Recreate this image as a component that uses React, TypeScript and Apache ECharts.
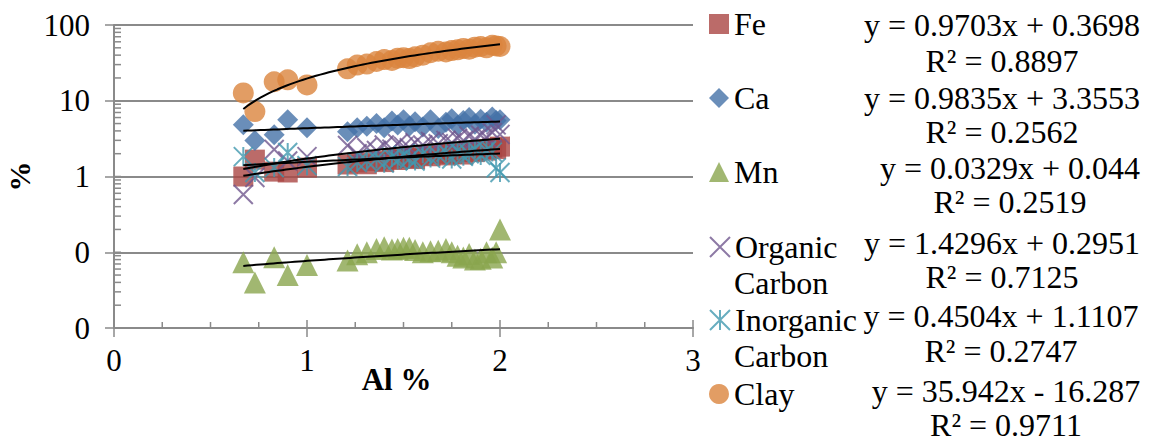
import React, { useEffect, useRef } from 'react';
import * as echarts from 'echarts';

const FONT = '"Liberation Serif", "Times New Roman", serif';
const AXIS_COLOR = '#8a8a8a';

const alValues = [0.67, 0.73, 0.83, 0.9, 1.0, 1.21, 1.26, 1.31, 1.36, 1.4, 1.44, 1.47, 1.5, 1.53, 1.56, 1.6, 1.64, 1.68, 1.72, 1.75, 1.78, 1.81, 1.84, 1.87, 1.9, 1.93, 1.96, 1.98, 2.0];
const feValues = [1.0, 1.67, 1.16, 1.13, 1.31, 1.44, 1.53, 1.45, 1.6, 1.55, 1.7, 1.65, 1.8, 1.75, 1.7, 1.9, 1.85, 2.0, 1.9, 2.0, 2.1, 1.95, 2.2, 2.1, 2.3, 2.2, 2.4, 2.3, 2.48];
const caValues = [4.83, 2.98, 3.57, 5.63, 4.4, 3.9, 4.4, 4.6, 5.0, 4.4, 5.4, 4.8, 5.6, 4.6, 5.3, 4.5, 5.6, 4.3, 5.2, 5.8, 4.7, 5.5, 6.0, 4.9, 5.7, 5.2, 6.1, 5.5, 5.6];
const mnValues = [0.074, 0.04, 0.086, 0.05, 0.068, 0.078, 0.094, 0.1, 0.11, 0.116, 0.109, 0.11, 0.115, 0.115, 0.107, 0.1, 0.103, 0.105, 0.11, 0.1, 0.09, 0.085, 0.095, 0.08, 0.082, 0.1, 0.085, 0.1, 0.2];
const orgCarbonValues = [0.58, 0.97, 2.27, 1.6, 1.83, 2.56, 2.0, 2.4, 2.2, 2.6, 2.3, 2.7, 2.5, 2.4, 2.8, 2.6, 2.9, 2.7, 3.0, 2.8, 3.2, 3.0, 3.4, 3.1, 3.5, 3.3, 3.8, 4.8, 3.6];
const inorgCarbonValues = [1.83, 1.13, 1.31, 2.07, 1.39, 1.35, 1.53, 1.6, 1.7, 1.5, 1.8, 1.65, 1.9, 1.7, 1.6, 2.0, 1.75, 1.9, 2.1, 1.7, 2.2, 1.85, 2.0, 2.3, 1.9, 2.2, 2.1, 1.3, 1.13];
const clayValues = [12.7, 7.2, 17.8, 18.9, 16.2, 26.4, 29.6, 30.5, 33, 35, 34, 36.5, 37, 36, 38, 40, 43, 45, 44, 46, 47, 49, 48, 51, 52, 50, 54, 53, 52];

const seriesNames = ['Fe', 'Ca', 'Mn', 'Organic Carbon', 'Inorganic Carbon', 'Clay'];
const seriesValues = [feValues, caValues, mnValues, orgCarbonValues, inorgCarbonValues, clayValues];
const seriesColors = ['#AA4643', '#4572A7', '#89A54E', '#71588F', '#4198AF', '#DB843D'];
const trendSlopes = [0.9703, 0.9835, 0.0329, 1.4296, 0.4504, 35.942];
const trendIntercepts = [0.3698, 3.3553, 0.044, 0.2951, 1.1107, -16.287];
const equationLabels = ['y = 0.9703x + 0.3698', 'y = 0.9835x + 3.3553', 'y = 0.0329x + 0.044', 'y = 1.4296x + 0.2951', 'y = 0.4504x + 1.1107', 'y = 35.942x - 16.287'];
const r2Labels = ['R² = 0.8897', 'R² = 0.2562', 'R² = 0.2519', 'R² = 0.7125', 'R² = 0.2747', 'R² = 0.9711'];
const xTickLabels = ['0', '1', '2', '3'];
const yTickLabels = ['0', '0', '1', '10', '100'];
const yDecades = [0.01, 0.1, 1, 10, 100];

const X_PATH = 'path://M0 0L10 10M10 0L0 10';
const STAR_PATH = 'path://M0 0L10 10M10 0L0 10M5 0L5 10';

const symbols = ['rect', 'diamond', 'triangle', X_PATH, STAR_PATH, 'circle'];
const symbolSizes = [20, 21, 22, 19, 19, 21];
const strokeOnly = [false, false, false, true, true, false];

const legendTops = [3, 77, 151, 226, 299, 373];
const eqCenterX = [1002, 1002, 1010, 1002, 1001, 1006];
const eqY = [25, 98, 168, 243, 316, 391];
const r2Y = [61, 132, 202, 277, 351, 425];

function buildOption() {
  const xMin = Math.min(...alValues);
  const xMax = Math.max(...alValues);

  const scatterSeries = seriesNames.map((name, i) => ({
    name,
    type: 'scatter',
    symbol: symbols[i],
    symbolSize: symbolSizes[i],
    z: 2,
    itemStyle: strokeOnly[i]
      ? { color: 'rgba(0,0,0,0)', borderColor: seriesColors[i], borderWidth: 2 }
      : { color: seriesColors[i] },
    data: alValues.map((x, k) => [x, seriesValues[i][k]]),
  }));

  const trendSeries = seriesNames.map((name, i) => {
    const pts: number[][] = [];
    const n = 60;
    for (let k = 0; k <= n; k++) {
      const x = xMin + ((xMax - xMin) * k) / n;
      pts.push([x, trendSlopes[i] * x + trendIntercepts[i]]);
    }
    return {
      name: name + ' trend',
      type: 'line',
      showSymbol: false,
      symbol: 'none',
      silent: true,
      z: 5,
      lineStyle: { color: '#000', width: 2 },
      data: pts,
    };
  });

  const yMinorTicks: number[][] = [];
  for (let d = 0; d < yDecades.length - 1; d++) {
    for (let m = 1; m < 10; m++) yMinorTicks.push([0, yDecades[d] * m]);
  }
  yMinorTicks.push([0, yDecades[yDecades.length - 1]]);
  const xMinorTicks: number[][] = [];
  for (let k = 0; k <= 12; k++) xMinorTicks.push([k * 0.25, yDecades[0]]);

  const tickSeries = [
    {
      type: 'custom',
      silent: true,
      clip: false,
      z: 1,
      data: yMinorTicks,
      renderItem: (params: any, api: any) => {
        const p = api.coord([api.value(0), api.value(1)]);
        return { type: 'line', shape: { x1: p[0], y1: p[1], x2: p[0] + 7, y2: p[1] }, style: { stroke: AXIS_COLOR, lineWidth: 1.5 } };
      },
    },
    {
      type: 'custom',
      silent: true,
      clip: false,
      z: 1,
      data: xMinorTicks,
      renderItem: (params: any, api: any) => {
        const v = api.value(0);
        const p = api.coord([v, api.value(1)]);
        const len = Math.abs(v - Math.round(v)) < 1e-9 ? 8 : 6;
        return { type: 'line', shape: { x1: p[0], y1: p[1], x2: p[0], y2: p[1] - len }, style: { stroke: AXIS_COLOR, lineWidth: 1.5 } };
      },
    },
  ];

  const legends = seriesNames.map((name, i) => ({
    data: [name],
    left: 704,
    top: legendTops[i],
    itemWidth: 20,
    itemHeight: 20,
    selectedMode: false,
    formatter: (n: string) => n.split(' ')[0],
    textStyle: { fontFamily: FONT, fontSize: 32, color: '#000' },
  }));

  const graphics: any[] = [];
  seriesNames.forEach((name, i) => {
    const parts = name.split(' ');
    if (parts.length > 1) {
      graphics.push({
        type: 'text',
        x: 734,
        y: legendTops[i] + 21 + 36,
        style: { text: parts.slice(1).join(' '), font: `32px ${FONT}`, fill: '#000', textVerticalAlign: 'middle' },
      });
    }
    graphics.push({
      type: 'text',
      x: eqCenterX[i],
      y: eqY[i],
      style: { text: equationLabels[i], font: `32px ${FONT}`, fill: '#000', textAlign: 'center', textVerticalAlign: 'middle' },
    });
    graphics.push({
      type: 'text',
      x: eqCenterX[i],
      y: r2Y[i],
      style: { text: r2Labels[i], font: `32px ${FONT}`, fill: '#000', textAlign: 'center', textVerticalAlign: 'middle' },
    });
  });

  return {
    animation: false,
    backgroundColor: '#fff',
    grid: { left: 114, right: 458, top: 25, bottom: 115, containLabel: false, outerBoundsMode: 'none' },
    legend: legends,
    xAxis: {
      type: 'value',
      min: 0,
      max: 3,
      interval: 1,
      name: 'Al %',
      nameLocation: 'middle',
      nameGap: 36,
      nameMoveOverlap: false,
      nameTextStyle: { fontFamily: FONT, fontSize: 31, fontWeight: 'bold', color: '#000', padding: [0, 14, 0, 0] },
      axisLine: { show: true, lineStyle: { color: AXIS_COLOR, width: 2 } },
      axisTick: { show: true, length: 9, lineStyle: { color: AXIS_COLOR, width: 1.5 } },
      splitLine: { show: false },
      axisLabel: {
        margin: 17,
        fontFamily: FONT,
        fontSize: 31,
        color: '#000',
        formatter: (v: number) => xTickLabels[Math.round(v)] ?? String(v),
      },
    },
    yAxis: {
      type: 'log',
      logBase: 10,
      min: yDecades[0],
      max: yDecades[yDecades.length - 1],
      name: '%',
      nameLocation: 'middle',
      nameRotate: 90,
      nameGap: 80,
      nameMoveOverlap: false,
      nameTextStyle: { fontFamily: FONT, fontSize: 30, fontWeight: 'bold', color: '#000' },
      axisLine: { show: true, lineStyle: { color: AXIS_COLOR, width: 2 } },
      axisTick: { show: true, length: 9, lineStyle: { color: AXIS_COLOR, width: 1.5 } },
      splitLine: { show: true, lineStyle: { color: AXIS_COLOR, width: 2 } },
      axisLabel: {
        margin: 24,
        fontFamily: FONT,
        fontSize: 31,
        color: '#000',
        formatter: (v: number) => {
          const idx = yDecades.findIndex((d) => Math.abs(Math.log10(d) - Math.log10(v)) < 1e-6);
          return idx >= 0 ? yTickLabels[idx] : '';
        },
      },
    },
    graphic: graphics,
    series: [...tickSeries, ...scatterSeries, ...trendSeries],
  };
}

export default function App() {
  const ref = useRef<HTMLDivElement>(null);
  useEffect(() => {
    const chart = echarts.init(ref.current!, null, { renderer: 'svg' });
    chart.setOption(buildOption() as any);
    return () => chart.dispose();
  }, []);
  return <div ref={ref} style={{ position: 'fixed', left: 0, top: 0, width: 1151, height: 443 }} />;
}
